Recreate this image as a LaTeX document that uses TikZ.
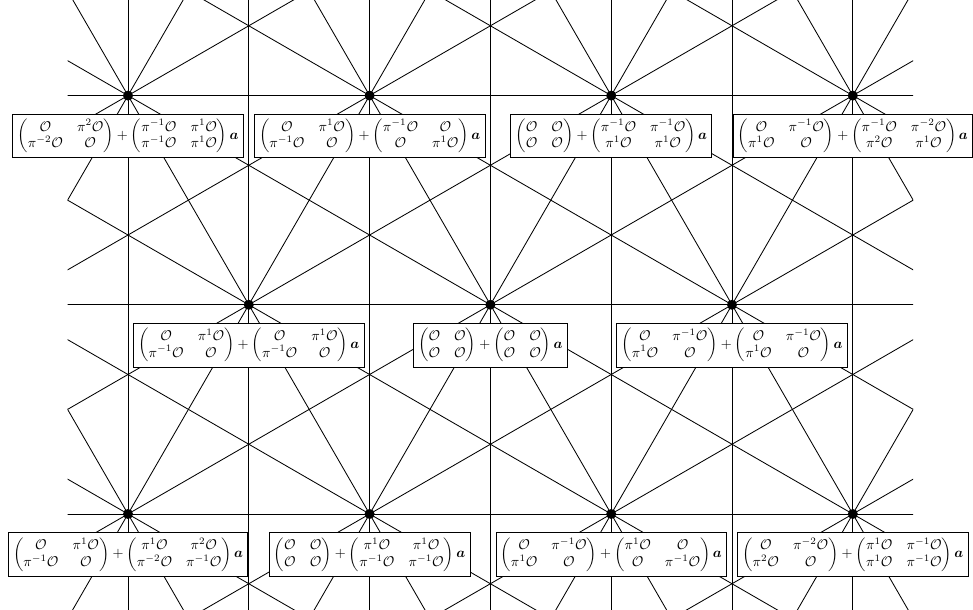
\documentclass[tikz,border=0pt]{standalone}
\usepackage{amsmath}
\usetikzlibrary{positioning,calc}
\tikzset{
	wall/.style={line width=0.6pt},% the lines of the apartment
	vertex/.style={circle, fill, inner sep=0pt, minimum size=0.25cm},
	lbl/.style={draw, fill=white, inner sep=3.4pt, line width=0.5pt}
}
\newcommand{\cO}{{\mathcal O}}
\newcommand{\pO}[1]{\pi^{#1}{\mathcal O}}
\newcommand{\ba}{{\boldsymbol a}}

\begin{document}
\begin{tikzpicture}[node distance=0.33cm]
	\useasboundingbox (0,0) rectangle (24.325,15.25);
	\begin{scope}
		\clip (1.69,0) rectangle (22.83,15.25);
		\foreach \y in {2.4,7.63,12.86}
			\draw[wall] (0,\y) -- (24.325,\y);
		\foreach \k in {0,...,6}
			\draw[wall] (3.2+3.02*\k,0) -- (3.2+3.02*\k,15.25);
		\foreach \i in {-4,...,8}
			\foreach \t in {30,60,120,150}
				\draw[wall] ($(3.2+6.04*\i,2.4)+(\t:-40)$) -- ($(3.2+6.04*\i,2.4)+(\t:40)$);
	\end{scope}
	% vertices
	\node[vertex] (t1) at (3.2,12.86) {};
	\node[vertex] (t2) at (9.24,12.86) {};
	\node[vertex] (t3) at (15.28,12.86) {};
	\node[vertex] (t4) at (21.32,12.86) {};
	\node[vertex] (m1) at (6.22,7.63) {};
	\node[vertex] (m2) at (12.26,7.63) {};
	\node[vertex] (m3) at (18.30,7.63) {};
	\node[vertex] (b1) at (3.2,2.4) {};
	\node[vertex] (b2) at (9.24,2.4) {};
	\node[vertex] (b3) at (15.28,2.4) {};
	\node[vertex] (b4) at (21.32,2.4) {};
	% lattices
	\node[lbl, below=of t1] (lt1) {$\begin{pmatrix}\cO & \pO{2}\\ \pO{-2} & \cO\end{pmatrix}+\begin{pmatrix}\pO{-1} & \pO{1}\\ \pO{-1} & \pO{1}\end{pmatrix}\ba$};
	\node[lbl, below=of t2] (lt2) {$\begin{pmatrix}\cO & \pO{1}\\ \pO{-1} & \cO\end{pmatrix}+\begin{pmatrix}\pO{-1} & \cO\\ \cO & \pO{1}\end{pmatrix}\ba$};
	\node[lbl, below=of t3] (lt3) {$\begin{pmatrix}\cO & \cO\\ \cO & \cO\end{pmatrix}+\begin{pmatrix}\pO{-1} & \pO{-1}\\ \pO{1} & \pO{1}\end{pmatrix}\ba$};
	\node[lbl, below=of t4] (lt4) {$\begin{pmatrix}\cO & \pO{-1}\\ \pO{1} & \cO\end{pmatrix}+\begin{pmatrix}\pO{-1} & \pO{-2}\\ \pO{2} & \pO{1}\end{pmatrix}\ba$};
	\node[lbl, below=of m1] (lm1) {$\begin{pmatrix}\cO & \pO{1}\\ \pO{-1} & \cO\end{pmatrix}+\begin{pmatrix}\cO & \pO{1}\\ \pO{-1} & \cO\end{pmatrix}\ba$};
	\node[lbl, below=of m2] (lm2) {$\begin{pmatrix}\cO & \cO\\ \cO & \cO\end{pmatrix}+\begin{pmatrix}\cO & \cO\\ \cO & \cO\end{pmatrix}\ba$};
	\node[lbl, below=of m3] (lm3) {$\begin{pmatrix}\cO & \pO{-1}\\ \pO{1} & \cO\end{pmatrix}+\begin{pmatrix}\cO & \pO{-1}\\ \pO{1} & \cO\end{pmatrix}\ba$};
	\node[lbl, below=of b1] (lb1) {$\begin{pmatrix}\cO & \pO{1}\\ \pO{-1} & \cO\end{pmatrix}+\begin{pmatrix}\pO{1} & \pO{2}\\ \pO{-2} & \pO{-1}\end{pmatrix}\ba$};
	\node[lbl, below=of b2] (lb2) {$\begin{pmatrix}\cO & \cO\\ \cO & \cO\end{pmatrix}+\begin{pmatrix}\pO{1} & \pO{1}\\ \pO{-1} & \pO{-1}\end{pmatrix}\ba$};
	\node[lbl, below=of b3] (lb3) {$\begin{pmatrix}\cO & \pO{-1}\\ \pO{1} & \cO\end{pmatrix}+\begin{pmatrix}\pO{1} & \cO\\ \cO & \pO{-1}\end{pmatrix}\ba$};
	\node[lbl, below=of b4] (lb4) {$\begin{pmatrix}\cO & \pO{-2}\\ \pO{2} & \cO\end{pmatrix}+\begin{pmatrix}\pO{1} & \pO{-1}\\ \pO{1} & \pO{-1}\end{pmatrix}\ba$};
\end{tikzpicture}
\end{document}
